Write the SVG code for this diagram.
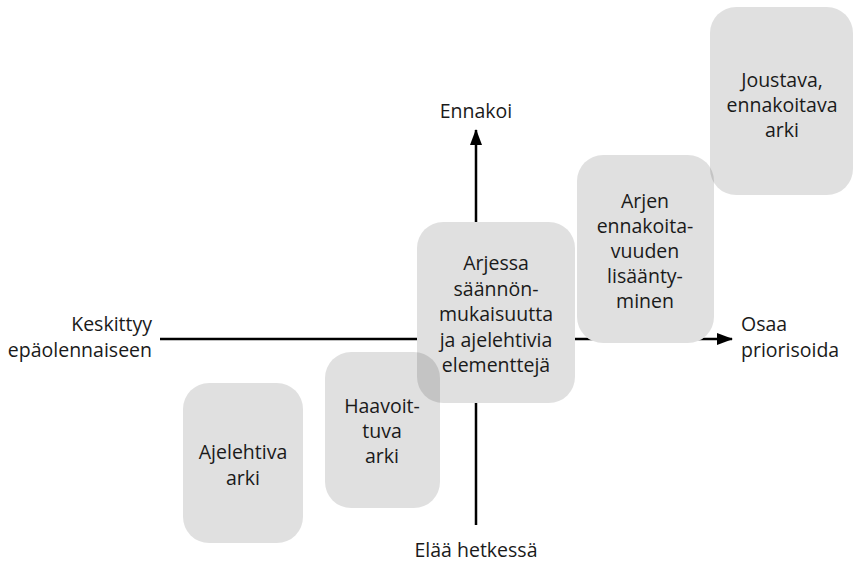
<svg xmlns="http://www.w3.org/2000/svg" width="854" height="565" viewBox="0 0 854 565">
<style>
  text { font-family: "Open Sans", "Noto Sans", "DejaVu Sans", sans-serif; font-size: 19.5px; fill: #1a1a1a; }
  .c { text-anchor: middle; }
  .r { text-anchor: end; }
  .axis { stroke: #000; stroke-width: 2.5; fill: none; }
  .mask { fill: #fff; }
  .box { fill: #000; fill-opacity: 0.12; }
</style>
<defs>
  <marker id="arr" viewBox="0 0 16 12" refX="15" refY="6" markerWidth="16" markerHeight="12" markerUnits="userSpaceOnUse" orient="auto">
    <path d="M0,0 L16,6 L0,12 Z" fill="#000"/>
  </marker>
</defs>
<g id="connectors">
  <line class="axis" x1="160" y1="339" x2="732" y2="339" marker-end="url(#arr)"/>
  <line class="axis" x1="476" y1="525" x2="476" y2="130" marker-end="url(#arr)"/>
</g>
<g id="masks">
  <rect class="mask" x="417" y="222" width="158" height="181" rx="26"/>
  <rect class="mask" x="325" y="352" width="115" height="156" rx="26"/>
  <rect class="mask" x="183" y="383" width="120" height="160" rx="26"/>
  <rect class="mask" x="577" y="155" width="137" height="188" rx="26"/>
  <rect class="mask" x="710" y="7" width="143" height="188" rx="26"/>
</g>
<g id="axis-labels">
  <text class="c" x="476" y="118">Ennakoi</text>
  <text class="c" x="476" y="557">Elää hetkessä</text>
  <text class="r" x="152" y="331">Keskittyy</text>
  <text class="r" x="152" y="357">epäolennaiseen</text>
  <text x="741" y="331">Osaa</text>
  <text x="741" y="357">priorisoida</text>
</g>
<g id="node-arjessa">
  <rect class="box" x="417" y="222" width="158" height="181" rx="26"/>
  <text class="c" x="496" y="270">Arjessa</text>
  <text class="c" x="496" y="295.5">säännön-</text>
  <text class="c" x="496" y="321">mukaisuutta</text>
  <text class="c" x="496" y="346.5">ja ajelehtivia</text>
  <text class="c" x="496" y="372">elementtejä</text>
</g>
<g id="node-haavoittuva">
  <rect class="box" x="325" y="352" width="115" height="156" rx="26"/>
  <text class="c" x="382" y="413">Haavoit-</text>
  <text class="c" x="382" y="438">tuva</text>
  <text class="c" x="382" y="463">arki</text>
</g>
<g id="node-ajelehtiva">
  <rect class="box" x="183" y="383" width="120" height="160" rx="26"/>
  <text class="c" x="243" y="459">Ajelehtiva</text>
  <text class="c" x="243" y="485">arki</text>
</g>
<g id="node-arjen">
  <rect class="box" x="577" y="155" width="137" height="188" rx="26"/>
  <text class="c" x="645" y="208">Arjen</text>
  <text class="c" x="645" y="233">ennakoita-</text>
  <text class="c" x="645" y="258">vuuden</text>
  <text class="c" x="645" y="283">lisäänty-</text>
  <text class="c" x="645" y="308">minen</text>
</g>
<g id="node-joustava">
  <rect class="box" x="710" y="7" width="143" height="188" rx="26"/>
  <text class="c" x="782" y="87">Joustava,</text>
  <text class="c" x="782" y="112">ennakoitava</text>
  <text class="c" x="782" y="137">arki</text>
</g>
</svg>
